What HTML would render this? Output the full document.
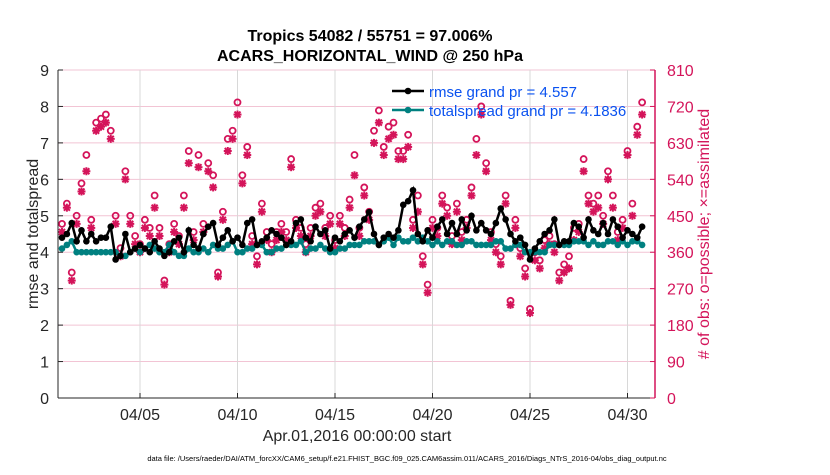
<!DOCTYPE html>
<html><head><meta charset="utf-8"><style>
body{margin:0;background:#fff;width:830px;height:470px;overflow:hidden;font-family:"Liberation Sans",sans-serif}
</style></head><body>
<svg id="chart" width="830" height="470" xmlns="http://www.w3.org/2000/svg" font-family="Liberation Sans, sans-serif"></svg>
<script>
const xTickLabels=["04/05","04/10","04/15","04/20","04/25","04/30"];
const xTickDays=[4,9,14,19,24,29];
const leftTicks=[0,1,2,3,4,5,6,7,8,9];
const rightTicks=[0,90,180,270,360,450,540,630,720,810];
const rmse=[4.4,4.5,4.8,4.3,4.6,4.3,4.5,4.3,4.4,4.4,4.7,3.8,3.9,4.5,4.0,4.1,4.2,4.1,4.0,4.3,4.1,3.9,4.0,4.3,4.4,4.0,4.6,4.2,4.1,4.5,4.7,4.8,4.2,4.4,4.6,4.3,4.4,4.2,4.8,4.9,4.2,4.3,4.4,4.6,4.5,4.4,4.2,4.3,4.8,4.9,4.4,4.3,4.7,4.5,4.6,4.1,4.4,4.3,4.5,4.6,4.4,4.7,4.9,5.1,4.5,4.2,4.4,4.5,4.4,4.6,5.3,5.4,5.7,4.5,4.3,4.6,4.4,4.7,4.9,4.5,4.8,4.5,4.9,4.6,5.0,4.6,4.8,4.6,4.5,4.8,5.2,4.9,4.5,4.3,4.4,4.2,3.8,4.1,4.3,4.5,4.6,4.9,4.2,4.3,4.3,4.8,4.7,4.4,4.9,4.6,4.5,4.8,4.5,4.9,4.7,4.4,4.6,4.5,4.4,4.7];
const spread=[4.1,4.2,4.3,4.0,4.0,4.0,4.0,4.0,4.0,4.0,4.0,4.0,3.9,3.9,4.0,4.1,4.0,4.1,4.2,4.1,4.0,4.0,4.2,4.0,3.9,3.9,4.1,4.0,4.0,4.1,4.0,4.2,4.1,4.1,4.2,4.3,4.0,4.0,4.1,4.1,4.2,4.2,4.0,4.0,4.1,4.1,4.2,4.2,4.2,4.3,4.0,4.1,4.1,4.2,4.1,4.0,4.0,4.1,4.1,4.2,4.2,4.2,4.3,4.3,4.3,4.2,4.3,4.4,4.2,4.4,4.3,4.3,4.4,4.3,4.4,4.3,4.2,4.3,4.2,4.3,4.3,4.2,4.2,4.3,4.3,4.2,4.2,4.2,4.2,4.3,4.3,4.1,4.1,4.2,4.2,4.0,4.0,4.0,4.0,4.0,4.2,4.2,4.2,4.2,4.2,4.3,4.3,4.3,4.2,4.3,4.2,4.2,4.3,4.3,4.2,4.3,4.2,4.3,4.3,4.2];
const assimilated=[410,470,290,430,510,560,420,660,670,680,640,430,350,540,430,380,360,420,400,470,400,280,360,410,380,470,580,390,570,410,560,520,300,440,610,640,700,530,600,380,330,460,390,360,390,410,390,570,420,400,360,400,450,460,400,430,370,430,400,470,550,400,500,440,630,680,600,640,650,590,590,620,420,460,330,260,420,400,480,450,380,460,390,420,500,600,700,560,390,360,330,480,230,420,350,300,210,340,320,370,380,360,290,310,320,390,410,560,480,460,470,430,540,470,390,420,600,450,650,700];
const possible=[430,480,310,450,530,600,440,680,690,700,660,450,370,560,450,400,380,440,420,500,420,290,380,430,400,500,610,410,600,430,580,550,310,460,640,660,730,550,620,400,350,480,410,380,410,430,410,590,440,420,380,420,470,480,420,450,390,450,420,490,600,420,520,460,660,710,620,670,680,610,610,650,440,500,350,280,440,420,500,470,400,480,410,440,520,640,720,580,410,380,350,500,240,440,370,320,220,360,340,390,400,380,310,330,350,420,430,590,500,480,500,450,560,500,410,440,610,480,670,730];
const svg=document.getElementById('chart');
const NS='http://www.w3.org/2000/svg';
const L=58,R=655,T=70,B=398;
const xs=d=>62+d*19.5;
const yl=v=>B-v*(B-T)/9;
const yr=v=>B-v*(B-T)/810;
function mk(tag,attrs,parent){const e=document.createElementNS(NS,tag);for(const k in attrs)e.setAttribute(k,attrs[k]);(parent||svg).appendChild(e);return e;}
function tx(x,y,s,attrs,parent){const e=mk('text',Object.assign({x:x,y:y},attrs),parent);e.textContent=s;return e;}
const bg=mk('rect',{x:L,y:T,width:R-L,height:B-T,fill:'#fff'});


leftTicks.forEach(v=>{const g=mk('line',{x1:L,x2:R,y1:yl(v),y2:yl(v),stroke:'#f2c4d4','stroke-width':1});

});
xTickDays.forEach(d=>{const g=mk('line',{x1:xs(d),x2:xs(d),y1:T,y2:B,stroke:'#d8d8d8','stroke-width':1});

});
const obsG=mk('g',{});


possible.forEach((v,i)=>{const c=mk('circle',{cx:xs(i*0.25),cy:yr(v),r:3,fill:'none',stroke:'#d4145a','stroke-width':1.8},obsG);

});
assimilated.forEach((v,i)=>{const x=xs(i*0.25),y=yr(v);const s=mk('g',{stroke:'#d4145a','stroke-width':2},obsG);


mk('line',{x1:x-4,x2:x+4,y1:y,y2:y},s);mk('line',{x1:x,x2:x,y1:y-4,y2:y+4},s);mk('line',{x1:x-3,x2:x+3,y1:y-3,y2:y+3},s);mk('line',{x1:x-3,x2:x+3,y1:y+3,y2:y-3},s);});
function series(arr,color,name){const g=mk('g',{});


mk('polyline',{points:arr.map((v,i)=>xs(i*0.25)+','+yl(v)).join(' '),fill:'none',stroke:color,'stroke-width':2.5},g);
arr.forEach((v,i)=>mk('circle',{cx:xs(i*0.25),cy:yl(v),r:3.3,fill:color},g));}
series(spread,'#008080','totalspread-series');
series(rmse,'#000','rmse-series');
const ax=mk('g',{});


mk('line',{x1:L,x2:L,y1:T,y2:B,stroke:'#262626'},ax);
mk('line',{x1:L,x2:R,y1:B,y2:B,stroke:'#262626'},ax);
mk('line',{x1:R,x2:R,y1:T,y2:B,stroke:'#d4145a','stroke-width':1.5},ax);
leftTicks.forEach(v=>{mk('line',{x1:L,x2:L+5,y1:yl(v),y2:yl(v),stroke:'#262626'},ax);
const t=tx(L-9,yl(v)+6,String(v),{'text-anchor':'end','font-size':16,fill:'#262626'},ax);

});
rightTicks.forEach(v=>{mk('line',{x1:R-5,x2:R,y1:yr(v),y2:yr(v),stroke:'#d4145a'},ax);
const t=tx(R+12,yr(v)+6,String(v),{'font-size':16,fill:'#d4145a'},ax);

});
xTickLabels.forEach((s,i)=>{mk('line',{x1:xs(xTickDays[i]),x2:xs(xTickDays[i]),y1:B,y2:B-5,stroke:'#262626'},ax);
const t=tx(xs(xTickDays[i]),B+22,s,{'text-anchor':'middle','font-size':16,fill:'#262626'},ax);

});
let t;
t=tx(370,41,'Tropics 54082 / 55751 = 97.006%',{'text-anchor':'middle','font-size':16,'font-weight':'bold',fill:'#000'});


t=tx(370,61,'ACARS_HORIZONTAL_WIND @ 250 hPa',{'text-anchor':'middle','font-size':16,'font-weight':'bold',fill:'#000'});


t=tx(0,0,'rmse and totalspread',{'text-anchor':'middle','font-size':16,fill:'#262626',transform:'translate(38,234) rotate(-90)'});


t=tx(0,0,'# of obs: o=possible; \u00d7=assimilated',{'text-anchor':'middle','font-size':16,fill:'#d4145a',transform:'translate(709,234) rotate(-90)'});


t=tx(357,441,'Apr.01,2016 00:00:00 start',{'text-anchor':'middle','font-size':16,fill:'#262626'});


t=tx(407,461,'data file: /Users/raeder/DAI/ATM_forcXX/CAM6_setup/f.e21.FHIST_BGC.f09_025.CAM6assim.011/ACARS_2016/Diags_NTrS_2016-04/obs_diag_output.nc',{'text-anchor':'middle','font-size':7.5,fill:'#000'});


const lg=mk('g',{});


mk('line',{x1:392,x2:424,y1:91,y2:91,stroke:'#000','stroke-width':2.5},lg);
mk('circle',{cx:408,cy:91,r:3.3,fill:'#000'},lg);
mk('line',{x1:392,x2:424,y1:110,y2:110,stroke:'#008080','stroke-width':2.5},lg);
mk('circle',{cx:408,cy:110,r:3.3,fill:'#008080'},lg);
t=tx(429,97,'rmse grand pr = 4.557',{'font-size':15,fill:'#0a52f0'},lg);


t=tx(429,116,'totalspread grand pr = 4.1836',{'font-size':15,fill:'#0a52f0'},lg);


</script>
</body></html>
